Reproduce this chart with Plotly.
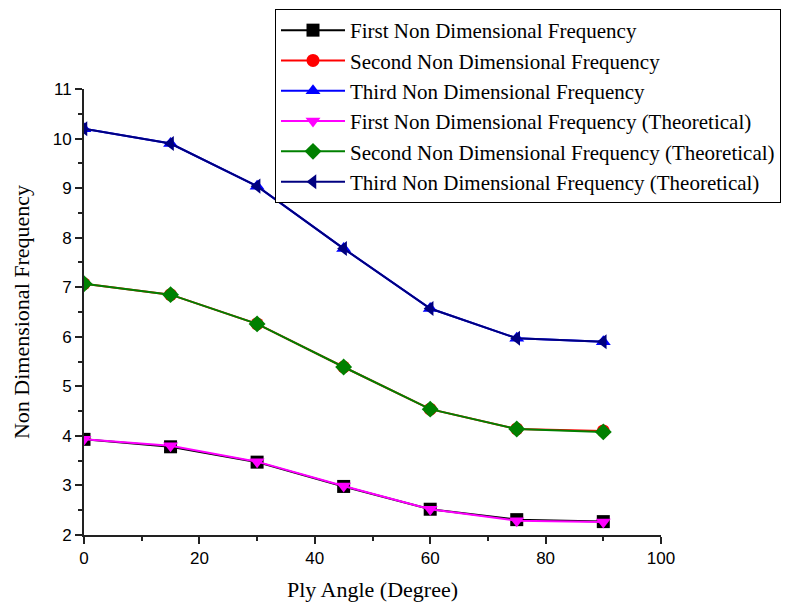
import plotly.graph_objects as go

angles = [0, 15, 30, 45, 60, 75, 90]
first_fem = [3.93, 3.78, 3.47, 2.98, 2.52, 2.31, 2.27]
second_fem = [7.07, 6.85, 6.26, 5.39, 4.54, 4.14, 4.10]
third_fem = [10.20, 9.90, 9.04, 7.78, 6.57, 5.97, 5.90]
first_theo = [3.93, 3.80, 3.48, 2.99, 2.52, 2.29, 2.26]
second_theo = [7.07, 6.85, 6.26, 5.39, 4.54, 4.14, 4.08]
third_theo = [10.20, 9.90, 9.04, 7.78, 6.57, 5.97, 5.90]

names = [
    "First Non Dimensional Frequency",
    "Second Non Dimensional Frequency",
    "Third Non Dimensional Frequency",
    "First Non Dimensional Frequency (Theoretical)",
    "Second Non Dimensional Frequency (Theoretical)",
    "Third Non Dimensional Frequency (Theoretical)",
]
series = [first_fem, second_fem, third_fem, first_theo, second_theo, third_theo]
colors = ["#000000", "#ff0000", "#0000ff", "#ff00ff", "#008000", "#000080"]
symbols = ["square", "circle", "triangle-up", "triangle-down", "diamond", "triangle-left"]

fig = go.Figure()
for n, s, c, sym in zip(names, series, colors, symbols):
    fig.add_trace(go.Scatter(
        x=angles, y=s, name=n, mode="lines+markers",
        line=dict(color=c, width=2),
        marker=dict(symbol=sym, color=c, size=13),
    ))

# page body has an 8px margin, so the figure is made 8px smaller and shifted
W, H = 797, 600
L, T = 76, 81
PW, PH = 577, 446
fig.update_layout(
    width=W, height=H,
    margin=dict(l=L, r=W - L - PW, t=T, b=H - T - PH, autoexpand=False),
    plot_bgcolor="white", paper_bgcolor="white",
    showlegend=True,
    legend=dict(
        x=(267 - L) / PW, y=(T + PH - 1) / PH, xanchor="left", yanchor="top",
        bordercolor="#000000", borderwidth=1, bgcolor="white",
        font=dict(family="Liberation Serif", size=21, color="#000000"),
        tracegroupgap=0, itemwidth=64, entrywidth=540, entrywidthmode="pixels",
    ),
)
axis_common = dict(
    showgrid=False, zeroline=False, showline=True, linecolor="#222222", linewidth=2,
    ticks="outside", ticklen=7, tickwidth=1.5, tickcolor="#222222",
    tickfont=dict(family="Liberation Sans", size=17, color="#000000"),
    mirror=False, automargin=False,
)
fig.update_xaxes(
    range=[0, 100], dtick=20, tick0=0,
    minor=dict(ticks="outside", ticklen=4, dtick=10, tickcolor="#222222", tickwidth=1.5),
    title=dict(text="Ply Angle (Degree)", font=dict(family="Liberation Serif", size=22, color="#000000"), standoff=14),
    **axis_common,
)
fig.update_yaxes(
    range=[2, 11], dtick=1, tick0=2,
    minor=dict(ticks="outside", ticklen=4, dtick=0.5, tickcolor="#222222", tickwidth=1.5),
    title=dict(text="Non Dimensional Frequency", font=dict(family="Liberation Serif", size=22, color="#000000"), standoff=17),
    **axis_common,
)

fig.write_html("out.html")
